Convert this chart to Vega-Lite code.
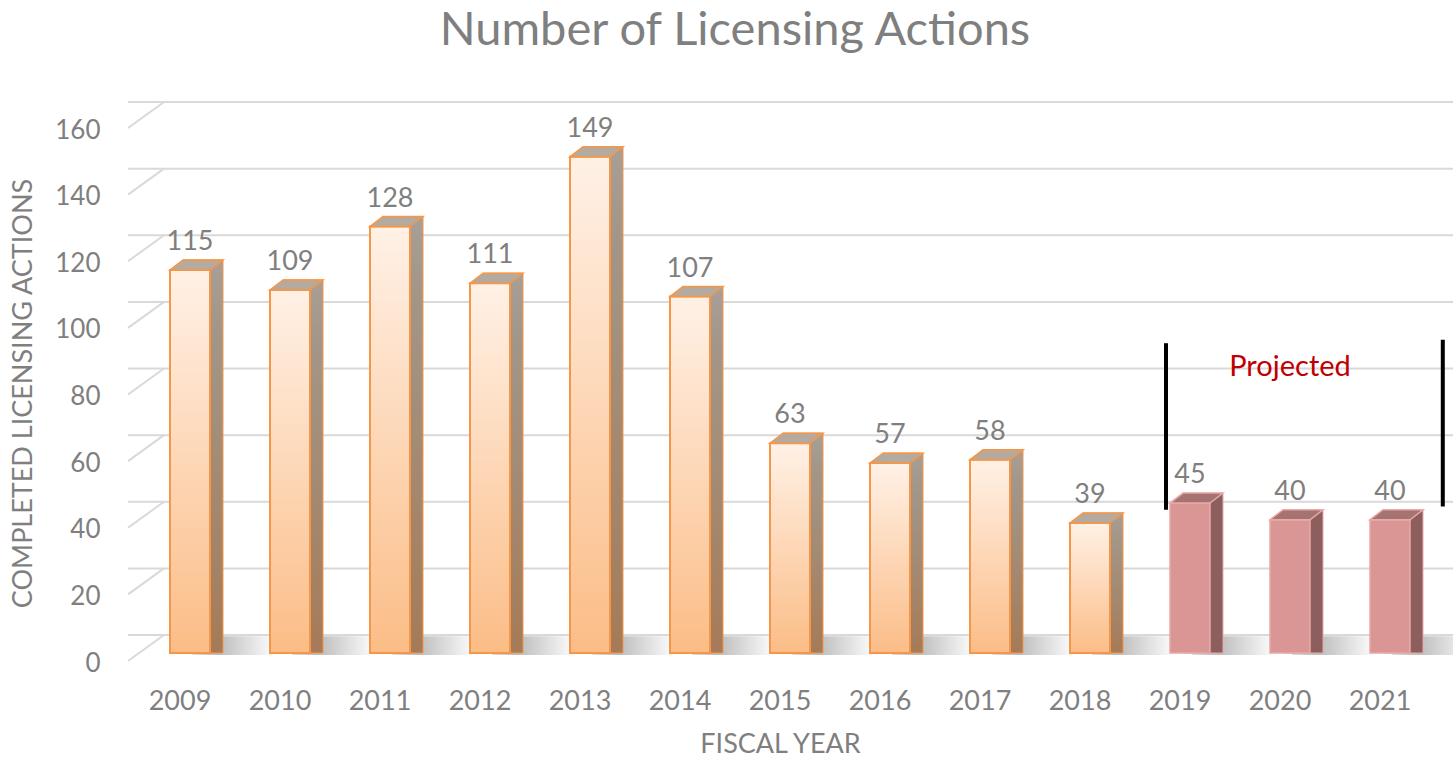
{
  "$schema": "https://vega.github.io/schema/vega-lite/v6.json",
  "width": 1324,
  "height": 533,
  "autosize": {"type": "none"},
  "padding": {"left": 128, "top": 120, "right": 1, "bottom": 110},
  "background": "white",
  "title": {
    "text": "Number of Licensing Actions",
    "font": "Lato",
    "fontSize": 47,
    "fontWeight": "normal",
    "color": "#7f7f7f",
    "anchor": "middle",
    "dx": -55,
    "offset": 46
  },
  "config": {"view": {"stroke": null}},
  "datasets": {
    "bars": [
      {"year": "2009", "count": 115, "status": "Actual"},
      {"year": "2010", "count": 109, "status": "Actual"},
      {"year": "2011", "count": 128, "status": "Actual"},
      {"year": "2012", "count": 111, "status": "Actual"},
      {"year": "2013", "count": 149, "status": "Actual"},
      {"year": "2014", "count": 107, "status": "Actual"},
      {"year": "2015", "count": 63, "status": "Actual"},
      {"year": "2016", "count": 57, "status": "Actual"},
      {"year": "2017", "count": 58, "status": "Actual"},
      {"year": "2018", "count": 39, "status": "Actual"},
      {"year": "2019", "count": 45, "status": "Projected"},
      {"year": "2020", "count": 40, "status": "Projected"},
      {"year": "2021", "count": 40, "status": "Projected"}
    ],
    "grid": [{"v": 0}, {"v": 20}, {"v": 40}, {"v": 60}, {"v": 80}, {"v": 100}, {"v": 120}, {"v": 140}, {"v": 160}]
  },
  "data": {"name": "bars"},
  "encoding": {
    "x": {
      "field": "year",
      "type": "nominal",
      "sort": null,
      "scale": {"paddingInner": 0.6, "paddingOuter": 0.42},
      "axis": {
        "title": "FISCAL YEAR",
        "titleFont": "Lato",
        "titleFontSize": 27,
        "titleFontWeight": "normal",
        "titleColor": "#7f7f7f",
        "titleX": 652,
        "titleY": 78,
        "titleBaseline": "top",
        "labelFont": "Lato",
        "labelFontSize": 27,
        "labelColor": "#7f7f7f",
        "labelAngle": 0,
        "labelOffset": -10,
        "labelPadding": 35,
        "domain": false,
        "ticks": false,
        "grid": false
      }
    },
    "y": {
      "field": "count",
      "type": "quantitative",
      "scale": {"domain": [0, 160], "nice": false},
      "axis": {
        "title": "COMPLETED LICENSING ACTIONS",
        "titleFont": "Lato",
        "titleFontSize": 27,
        "titleFontWeight": "normal",
        "titleColor": "#7f7f7f",
        "titleX": -91,
        "titleY": 273,
        "labelFont": "Lato",
        "labelFontSize": 26,
        "labelColor": "#7f7f7f",
        "labelPadding": 28,
        "labelOffset": 10,
        "values": [0, 20, 40, 60, 80, 100, 120, 140, 160],
        "domain": false,
        "ticks": false,
        "grid": false
      }
    }
  },
  "layer": [
    {
      "data": {"name": "grid"},
      "mark": {"type": "rule", "color": "#d9d9d9", "strokeWidth": 2, "xOffset": 36, "yOffset": -18},
      "encoding": {"x": null, "y": {"field": "v", "type": "quantitative"}}
    },
    {
      "data": {"name": "grid"},
      "mark": {"type": "rule", "color": "#d9d9d9", "strokeWidth": 2, "yOffset": 8, "y2Offset": -18},
      "encoding": {
        "x": {"datum": "2009", "bandPosition": -1.05},
        "x2": {"datum": "2009", "bandPosition": -0.15},
        "y": {"field": "v", "type": "quantitative"},
        "y2": {"field": "v"}
      }
    },
    {
      "mark": {
        "type": "bar",
        "width": {"band": 2.1},
        "xOffset": 44,
        "yOffset": 2,
        "opacity": 0.8,
        "fill": {
          "gradient": "linear", "x1": 0, "y1": 0, "x2": 1, "y2": 0,
          "stops": [{"offset": 0, "color": "#d5d5d5"}, {"offset": 0.3, "color": "#aaaaaa"}, {"offset": 1, "color": "#ffffff"}]
        }
      },
      "encoding": {"y": {"datum": 0, "type": "quantitative"}, "y2": {"datum": 5}}
    },
    {
      "transform": [{"filter": "datum.status === 'Actual'"}],
      "mark": {
        "type": "bar",
        "xOffset": 13,
        "yOffset": -10,
        "stroke": "#f79646",
        "strokeWidth": 1,
        "fill": {
          "gradient": "linear", "x1": 0, "y1": 0, "x2": 0, "y2": 1,
          "stops": [{"offset": 0, "color": "#a89f97"}, {"offset": 0.15, "color": "#a39789"}, {"offset": 1, "color": "#a57b58"}]
        }
      },
      "encoding": {"y2": {"datum": 0}}
    },
    {
      "transform": [{"filter": "datum.status === 'Projected'"}],
      "mark": {
        "type": "bar",
        "xOffset": 13,
        "yOffset": -10,
        "stroke": "#e8a9a7",
        "strokeWidth": 1,
        "fill": "#8c5e5d"
      },
      "encoding": {"y2": {"datum": 0}}
    },
    {
      "mark": {
        "type": "point",
        "shape": "M0.667,0L1.1,-0.333L0.667,-0.333Z",
        "size": 3600,
        "filled": true,
        "strokeWidth": 0,
        "opacity": 1
      },
      "encoding": {
        "y": {"datum": 0, "type": "quantitative"},
        "fill": {"condition": {"test": "datum.status === 'Projected'", "value": "#8c5e5d"}, "value": "#a57b58"}
      }
    },
    {
      "transform": [{"filter": "datum.status === 'Actual'"}],
      "mark": {
        "type": "bar",
        "stroke": "#f79646",
        "strokeWidth": 2,
        "fill": {
          "gradient": "linear", "x1": 0, "y1": 0, "x2": 0, "y2": 1,
          "stops": [{"offset": 0, "color": "#fff1e6"}, {"offset": 1, "color": "#fbbd87"}]
        }
      },
      "encoding": {"y2": {"datum": 0}}
    },
    {
      "transform": [{"filter": "datum.status === 'Projected'"}],
      "mark": {"type": "bar", "fill": "#d99694", "stroke": "#e8a9a7", "strokeWidth": 1.5},
      "encoding": {"y2": {"datum": 0}}
    },
    {
      "mark": {
        "type": "point",
        "shape": "M-0.667,0L0.667,0L1.1,-0.333L-0.233,-0.333Z",
        "size": 3600,
        "filled": true,
        "strokeWidth": 1.5,
        "opacity": 1
      },
      "encoding": {
        "fill": {"condition": {"test": "datum.status === 'Projected'", "value": "#a57372"}, "value": "#b5aa9f"},
        "stroke": {"condition": {"test": "datum.status === 'Projected'", "value": "#e8a9a7"}, "value": "#f79646"}
      }
    },
    {
      "mark": {"type": "text", "font": "Lato", "fontSize": 27, "color": "#7f7f7f", "baseline": "alphabetic", "dy": -20},
      "encoding": {"text": {"field": "count", "type": "quantitative"}}
    },
    {
      "data": {"values": [{"lo": 43, "hi": 93}]},
      "mark": {"type": "rule", "color": "black", "strokeWidth": 4},
      "encoding": {
        "x": {"datum": "2019", "bandPosition": -0.1},
        "y": {"field": "lo", "type": "quantitative"},
        "y2": {"field": "hi"}
      }
    },
    {
      "data": {"values": [{"lo": 44, "hi": 94}]},
      "mark": {"type": "rule", "color": "black", "strokeWidth": 4},
      "encoding": {
        "x": {"datum": "2021", "bandPosition": 1.82},
        "y": {"field": "lo", "type": "quantitative"},
        "y2": {"field": "hi"}
      }
    },
    {
      "data": {"values": [{"label": "Projected", "v": 86}]},
      "mark": {"type": "text", "font": "Lato", "fontSize": 29, "color": "#c00000", "baseline": "middle", "align": "center"},
      "encoding": {
        "x": {"datum": "2020", "bandPosition": 0.5},
        "y": {"field": "v", "type": "quantitative"},
        "text": {"field": "label"}
      }
    }
  ]
}
